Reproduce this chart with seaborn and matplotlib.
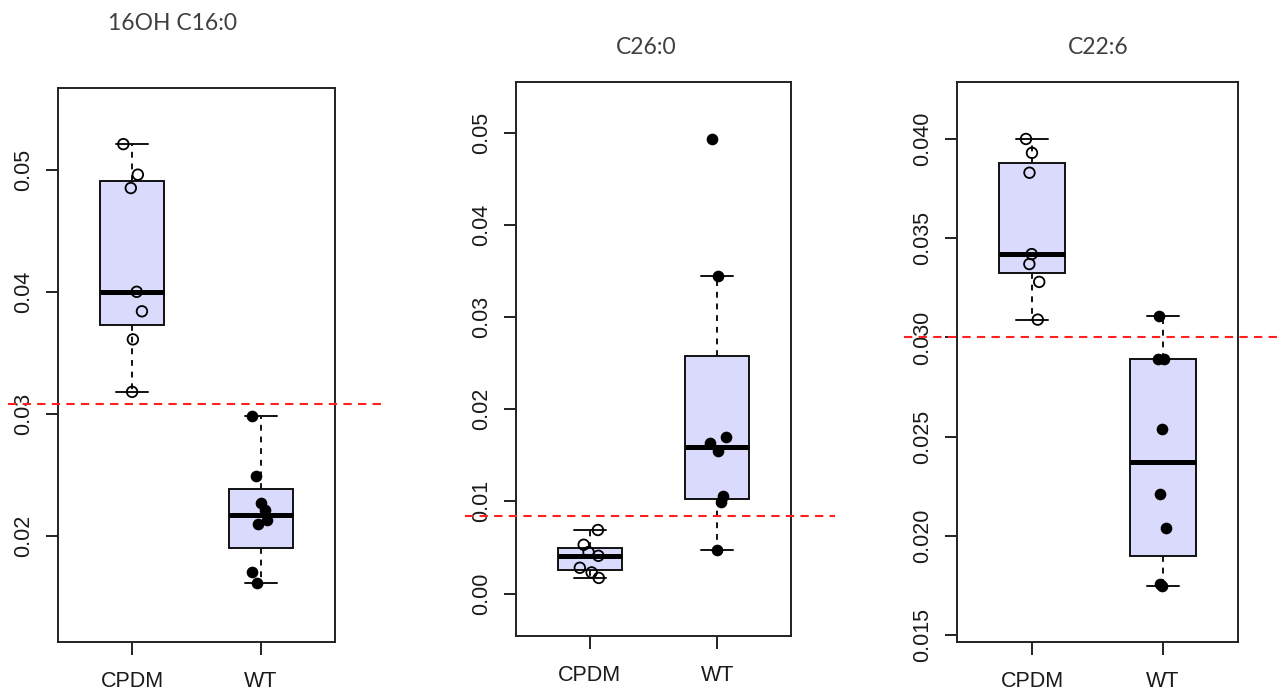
import numpy as np
import pandas as pd
import matplotlib
matplotlib.use("Agg")
import matplotlib.pyplot as plt
import matplotlib.transforms as mtransforms
import seaborn as sns

# ---------------- data ----------------
groups = ["CPDM", "WT"]
titles = ["16OH C16:0", "C26:0", "C22:6"]

cpdm_16oh = [0.0521, 0.0496, 0.0485, 0.0400, 0.0384, 0.0361, 0.0318]
wt_16oh = [0.0298, 0.0249, 0.0227, 0.0221, 0.0213, 0.0210, 0.0170, 0.0161]
thr_16oh = 0.0308

cpdm_c26 = [0.0069, 0.0053, 0.0045, 0.0041, 0.0028, 0.0023, 0.0017]
wt_c26 = [0.0493, 0.0345, 0.0170, 0.0163, 0.0155, 0.0106, 0.0099, 0.0047]
thr_c26 = 0.0084

cpdm_c22 = [0.0400, 0.0393, 0.0383, 0.0342, 0.0337, 0.0328, 0.0309]
wt_c22 = [0.0311, 0.0289, 0.0289, 0.0254, 0.0221, 0.0204, 0.0176, 0.0175]
thr_c22 = 0.0300

yticks_16oh = [0.02, 0.03, 0.04, 0.05]
ytick_labels_16oh = ["0.02", "0.03", "0.04", "0.05"]
yticks_c26 = [0.00, 0.01, 0.02, 0.03, 0.04, 0.05]
ytick_labels_c26 = ["0.00", "0.01", "0.02", "0.03", "0.04", "0.05"]
yticks_c22 = [0.015, 0.020, 0.025, 0.030, 0.035, 0.040]
ytick_labels_c22 = ["0.015", "0.020", "0.025", "0.030", "0.035", "0.040"]

# ---------------- style ----------------
sns.set_style("ticks")
plt.rcParams['font.family'] = ['Liberation Sans', 'DejaVu Sans']

BOX_COLOR = "#DADAFC"
LINE = "#111111"


def r_box_stats(values, label):
    """R-style boxplot statistics (Tukey hinges, 1.5 IQR whiskers)."""
    x = np.sort(np.asarray(values, dtype=float))
    n = len(x)
    n4 = np.floor((n + 3) / 2) / 2
    d = np.array([1, n4, (n + 1) / 2, n + 1 - n4, n]) - 1
    q = 0.5 * (x[np.floor(d).astype(int)] + x[np.ceil(d).astype(int)])
    iqr = q[3] - q[1]
    lo = x[x >= q[1] - 1.5 * iqr].min()
    hi = x[x <= q[3] + 1.5 * iqr].max()
    return dict(label=label, med=q[2], q1=q[1], q3=q[3],
                whislo=lo, whishi=hi, fliers=[])


fig = plt.figure(figsize=(12.86, 6.94), dpi=100)

W, H = 1286.0, 694.0
rects = [(58, 88, 335, 642), (516, 82, 791, 636), (957, 82, 1238, 642)]
ylims = [(0.0113, 0.0567), (-0.0046, 0.0555), (0.01466, 0.04287)]
panels = [
    (cpdm_16oh, wt_16oh, thr_16oh, yticks_16oh, ytick_labels_16oh),
    (cpdm_c26, wt_c26, thr_c26, yticks_c26, ytick_labels_c26),
    (cpdm_c22, wt_c22, thr_c22, yticks_c22, ytick_labels_c22),
]
title_pos = [(173, 24), (646, 48), (1098, 48)]
red_span = [(-0.18, 1.173), (-0.185, 1.16), (-0.19, 1.15)]

np.random.seed(7)

for i, (cp, wt, thr, yt, ytl) in enumerate(panels):
    l, t, r, b = rects[i]
    ax = fig.add_axes([l / W, 1 - b / H, (r - l) / W, (b - t) / H])

    df = pd.DataFrame({
        "group": ["CPDM"] * len(cp) + ["WT"] * len(wt),
        "value": cp + wt,
    })

    # points: open circles for CPDM, filled for WT
    n_before = len(ax.collections)
    sns.stripplot(data=df[df.group == "CPDM"], x="group", y="value",
                  order=groups, jitter=0.08, ax=ax, color="black",
                  edgecolor="black", linewidth=1.3, size=7.6, zorder=5)
    for coll in ax.collections[n_before:]:
        coll.set_facecolor("none")
        coll.set_edgecolor("black")
        coll.set_linewidth(1.3)
    sns.stripplot(data=df[df.group == "WT"], x="group", y="value",
                  order=groups, jitter=0.08, ax=ax, color="black",
                  linewidth=0, size=8.4, zorder=5)

    stats = [r_box_stats(df.value[df.group == g], g) for g in groups]
    ax.bxp(stats, positions=[0, 1], widths=0.5, capwidths=0.25,
           patch_artist=True, showfliers=False, manage_ticks=False,
           boxprops=dict(facecolor=BOX_COLOR, edgecolor=LINE, linewidth=1.4),
           whiskerprops=dict(color=LINE, linewidth=1.4, linestyle=(0, (3, 3))),
           capprops=dict(color=LINE, linewidth=1.4),
           medianprops=dict(color="black", linewidth=3.6, solid_capstyle="butt"))

    # red threshold line, extending beyond the plot frame
    trans = mtransforms.blended_transform_factory(ax.transAxes, ax.transData)
    x0, x1 = red_span[i]
    ax.plot([x0, x1], [thr, thr], transform=trans, color="#FF2020",
            linewidth=1.5, linestyle=(0, (4, 3)), zorder=6, clip_on=False)

    ax.set_xlim(-0.575, 1.575)
    ax.set_ylim(*ylims[i])
    ax.set_xlabel("")
    ax.set_ylabel("")
    ax.set_xticks([0, 1])
    ax.set_xticklabels(groups, fontsize=15.5, color="#1a1a1a")
    ax.set_yticks(yt)
    ax.set_yticklabels(ytl, fontsize=15.5, color="#1a1a1a",
                       rotation=90, va="center")
    ax.tick_params(axis="both", direction="out", length=9, width=1.3,
                   color=LINE)
    ax.tick_params(axis="x", pad=12)
    ax.tick_params(axis="y", pad=8)
    for s in ax.spines.values():
        s.set_visible(True)
        s.set_linewidth(1.4)
        s.set_color("#222222")

    tx, ty = title_pos[i]
    fig.text(tx / W, 1 - ty / H, titles[i], ha="center", va="center",
             fontsize=16.5, color="#404040", family=["Lato", "DejaVu Sans"])

fig.savefig("out.png", dpi=100)
